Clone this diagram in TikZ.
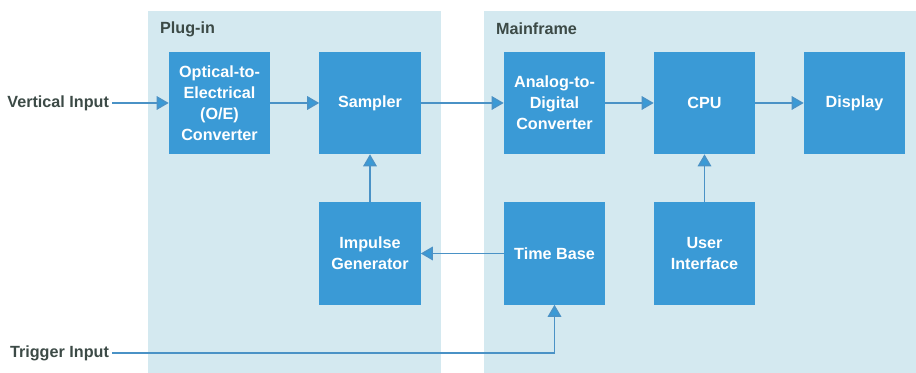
\documentclass[tikz,border=0pt]{standalone}
\usepackage{fontspec}
\setmainfont{Liberation Sans}
\usepackage{tikz}
\usetikzlibrary{arrows.meta}
\definecolor{panelblue}{HTML}{D4E9F0}
\definecolor{boxblue}{HTML}{3A9AD6}
\definecolor{lineblue}{HTML}{4A92C6}
\definecolor{labelgray}{HTML}{3C4A46}

\tikzset{
  blk/.style={fill=boxblue, text=white, minimum width=2.525cm, minimum height=2.55cm,
    align=center, font=\fontsize{11.5}{15}\selectfont\bfseries},
  lbl/.style={text=labelgray, inner sep=2pt, font=\fontsize{11.5}{15}\selectfont\bfseries},
  link/.style={draw=lineblue, line width=1pt, -{Triangle[length=0.3cm, width=0.34cm, fill=boxblue]}},
}

\begin{document}
\begin{tikzpicture}[x=0.025cm, y=0.025cm]
    \useasboundingbox (0,0) rectangle (916,373);
    \fill[panelblue] (148,0) rectangle (441,362); % plug-in
    \fill[panelblue] (484,0) rectangle (916,362); % mainframe
    \node[lbl, anchor=west] (plug) at (157,344) {Plug-in};
    \node[lbl, anchor=west] (main) at (493,344) {Mainframe};
    \node[blk] (oe) at (219.5,270) {Optical-to-\\Electrical\\(O/E)\\Converter};
    \node[blk] (samp) at (370,270) {Sampler};
    \node[blk] (adc) at (554.5,270) {Analog-to-\\Digital\\Converter};
    \node[blk] (cpu) at (704.5,270) {CPU};
    \node[blk] (disp) at (854.5,270) {Display};
    \node[blk] (imp) at (370,119.5) {Impulse\\Generator};
    \node[blk] (tb) at (554.5,119.5) {Time Base};
    \node[blk] (ui) at (704.5,119.5) {User\\Interface};
    \node[lbl, anchor=east] (vin) at (112,270) {Vertical Input};
    \node[lbl, anchor=east] (trig) at (112,20) {Trigger Input};
    \draw[link] (vin) -- (oe);
    \draw[link] (oe) -- (samp);
    \draw[link] (samp) -- (adc);
    \draw[link] (adc) -- (cpu);
    \draw[link] (cpu) -- (disp);
    \draw[link] (imp) -- (samp);
    \draw[link] (ui) -- (cpu);
    \draw[link] (tb) -- (imp);
    \draw[link] (trig.east) -| (tb.south);
\end{tikzpicture}
\end{document}
